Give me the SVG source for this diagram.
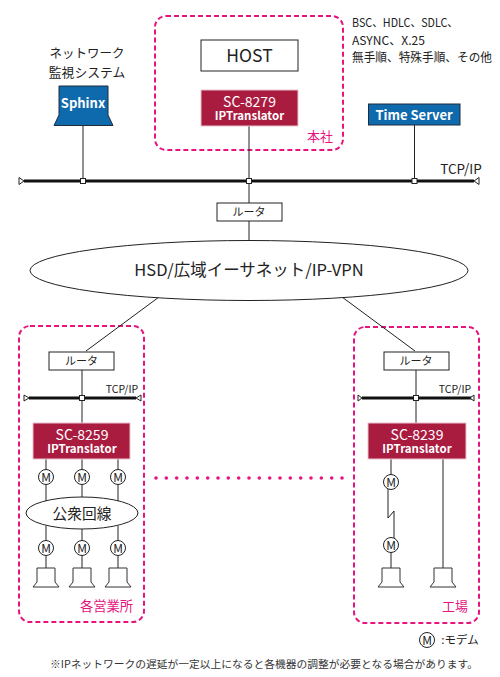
<svg xmlns="http://www.w3.org/2000/svg" width="500" height="677" viewBox="0 0 500 677">
<style>
text{font-family:"Noto Sans CJK JP","Noto Sans",sans-serif;fill:#222;text-anchor:middle}
.zone{fill:#fff;stroke:#e6147f;stroke-width:2;stroke-dasharray:5 3}
.pk{fill:#e6147f}
.box{fill:#fff;stroke:#222;stroke-width:1}
.red{fill:#a91b3f;stroke:#e8c4cf;stroke-width:1}
.blue{fill:#0f69ad;stroke:#1f2d3a;stroke-width:1}
.w{fill:#fff;font-weight:700}
.wr{fill:#fff}
.ln{fill:none;stroke:#222;stroke-width:1}
.bus{fill:none;stroke:#111;stroke-width:3}
.j{fill:#fff;stroke:#222;stroke-width:1}
.tri{fill:#fff;stroke:#222;stroke-width:1}
.mc{fill:#fff;stroke:#222;stroke-width:1}
.pc{fill:#fff;stroke:#333;stroke-width:1}
.d{fill:#e6147f}
.st{text-anchor:start}
</style>
<defs>
<g id="m"><circle class="mc" r="7.500"/><text y="4.500" font-size="12">M</text></g>
<path id="pc" class="pc" d="M-9 -19V-5L-13 0H13L9 -5V-19Z"/>
</defs>
<g id="zones">
<rect class="zone" x="155" y="16" width="188" height="134" rx="11"/>
<rect class="zone" x="19" y="326" width="125" height="296" rx="11"/>
<rect class="zone" x="354" y="327" width="125" height="296" rx="11"/>
</g>
<g id="connectors">
<path class="ln" d="M83 125V181M249 126V203M414.500 125V181M249 221V241M159 297L86 351M342 297L415 351"/>
<path class="bus" d="M24 181H474"/>
<path class="tri" d="M19 177.500L24 181L19 184.500ZM479 177.500L474 181L479 184.500Z"/>
<path class="ln" d="M82 369V423M46 459V505M82 459V497M118 459V505M46 526V568M82 529V568M118 526V568"/>
<path class="bus" d="M29 398H136"/>
<path class="tri" d="M24 395L29 398L24 401ZM141 395L136 398L141 401Z"/>
<path class="ln" d="M416 369V423M391 459V475M388 489V518L394 511V538M391 552V568M443 459V568"/>
<path class="bus" d="M362 398H473"/>
<path class="tri" d="M358 395L362 398L358 401ZM474 395L470 398L474 401Z"/>
</g>
<g id="junctions">
<rect class="j" x="80.500" y="178.500" width="5" height="5"/>
<rect class="j" x="246.500" y="178.500" width="5" height="5"/>
<rect class="j" x="412" y="178.500" width="5" height="5"/>
<rect class="j" x="79.500" y="395.500" width="5" height="5"/>
<rect class="j" x="413.500" y="395.500" width="5" height="5"/>
</g>
<g id="sphinx-label"><text x="87" y="58" font-size="12.500">ネットワーク</text><text x="87" y="77" font-size="12.800">監視システム</text></g>
<g id="sphinx"><path class="blue" d="M59 86H108V115L113 125.500H54L59 115Z"/><text class="w" x="83" y="108" font-size="13">Sphinx</text></g>
<g id="host"><rect class="box" x="201" y="40" width="97" height="31"/><text x="249.500" y="62" font-size="17.500">HOST</text></g>
<g id="sc8279"><rect class="red" x="201" y="90" width="97" height="36"/><text class="wr" x="249.500" y="107" font-size="14">SC-8279</text><text class="w" x="249.500" y="120" font-size="11.500">IPTranslator</text></g>
<text x="320" y="141" font-size="13" style="fill:#e6147f">本社</text>
<g id="protocols"><text class="st" x="352" y="27" font-size="12" textLength="106" lengthAdjust="spacingAndGlyphs">BSC、HDLC、SDLC、</text><text class="st" x="352" y="45" font-size="12" textLength="73" lengthAdjust="spacingAndGlyphs">ASYNC、X.25</text><text class="st" x="352" y="62" font-size="12" textLength="140" lengthAdjust="spacingAndGlyphs">無手順、特殊手順、その他</text></g>
<g id="time-server"><rect class="blue" x="368.500" y="104" width="91.500" height="21"/><text class="w" x="414" y="120" font-size="13">Time Server</text></g>
<text x="461" y="174" font-size="13.500">TCP/IP</text>
<g id="router-top"><rect class="box" x="217" y="203" width="65" height="18"/><text x="249" y="216" font-size="11">ルータ</text></g>
<g id="wan"><ellipse class="box" cx="249" cy="270.500" rx="219" ry="30"/><text x="249" y="276" font-size="16.500">HSD/広域イーサネット/IP-VPN</text></g>
<g id="branch">
<g id="router-l"><rect class="box" x="49" y="352" width="65" height="18"/><text x="81.500" y="365" font-size="11">ルータ</text></g>
<text x="122" y="393" font-size="10.500">TCP/IP</text>
<g id="sc8259"><rect class="red" x="33" y="423" width="97" height="36"/><text class="wr" x="82" y="440" font-size="14">SC-8259</text><text class="w" x="82" y="453" font-size="11.500">IPTranslator</text></g>
<use href="#m" x="46" y="477"/><use href="#m" x="82" y="477"/><use href="#m" x="118" y="477"/>
<g id="public"><ellipse class="box" cx="82" cy="513" rx="56" ry="16"/><text x="82" y="519" font-size="14.700">公衆回線</text></g>
<use href="#m" x="46" y="548"/><use href="#m" x="82" y="548"/><use href="#m" x="118" y="548"/>
<use href="#pc" x="46" y="587"/><use href="#pc" x="82" y="587"/><use href="#pc" x="118" y="587"/>
<text x="106.500" y="611" font-size="13.300" style="fill:#e6147f">各営業所</text>
</g>
<g id="factory">
<g id="router-r"><rect class="box" x="384" y="352" width="65" height="18"/><text x="416" y="365" font-size="11">ルータ</text></g>
<text x="455" y="393" font-size="10.500">TCP/IP</text>
<g id="sc8239"><rect class="red" x="368" y="423" width="98" height="36"/><text class="wr" x="417" y="440" font-size="14">SC-8239</text><text class="w" x="417" y="453" font-size="11.500">IPTranslator</text></g>
<use href="#m" x="391" y="482"/><use href="#m" x="391" y="545"/>
<use href="#pc" x="391" y="587"/><use href="#pc" x="443" y="587"/>
<text x="455" y="611" font-size="13" style="fill:#e6147f">工場</text>
</g>
<g id="dots">
<circle class="d" cx="156" cy="478" r="1.800"/><circle class="d" cx="166.300" cy="478" r="1.800"/><circle class="d" cx="176.700" cy="478" r="1.800"/><circle class="d" cx="187" cy="478" r="1.800"/><circle class="d" cx="197.300" cy="478" r="1.800"/><circle class="d" cx="207.700" cy="478" r="1.800"/><circle class="d" cx="218" cy="478" r="1.800"/><circle class="d" cx="228.300" cy="478" r="1.800"/><circle class="d" cx="238.700" cy="478" r="1.800"/><circle class="d" cx="249" cy="478" r="1.800"/><circle class="d" cx="259.300" cy="478" r="1.800"/><circle class="d" cx="269.700" cy="478" r="1.800"/><circle class="d" cx="280" cy="478" r="1.800"/><circle class="d" cx="290.300" cy="478" r="1.800"/><circle class="d" cx="300.700" cy="478" r="1.800"/><circle class="d" cx="311" cy="478" r="1.800"/><circle class="d" cx="321.300" cy="478" r="1.800"/><circle class="d" cx="331.700" cy="478" r="1.800"/><circle class="d" cx="342" cy="478" r="1.800"/>
</g>
<g id="legend"><use href="#m" x="427" y="640"/><text x="460" y="644" font-size="11.500">:モデム</text></g>
<text x="264" y="668" font-size="10.200" textLength="428" lengthAdjust="spacingAndGlyphs" style="fill:#333">※IPネットワークの遅延が一定以上になると各機器の調整が必要となる場合があります。</text>
</svg>
